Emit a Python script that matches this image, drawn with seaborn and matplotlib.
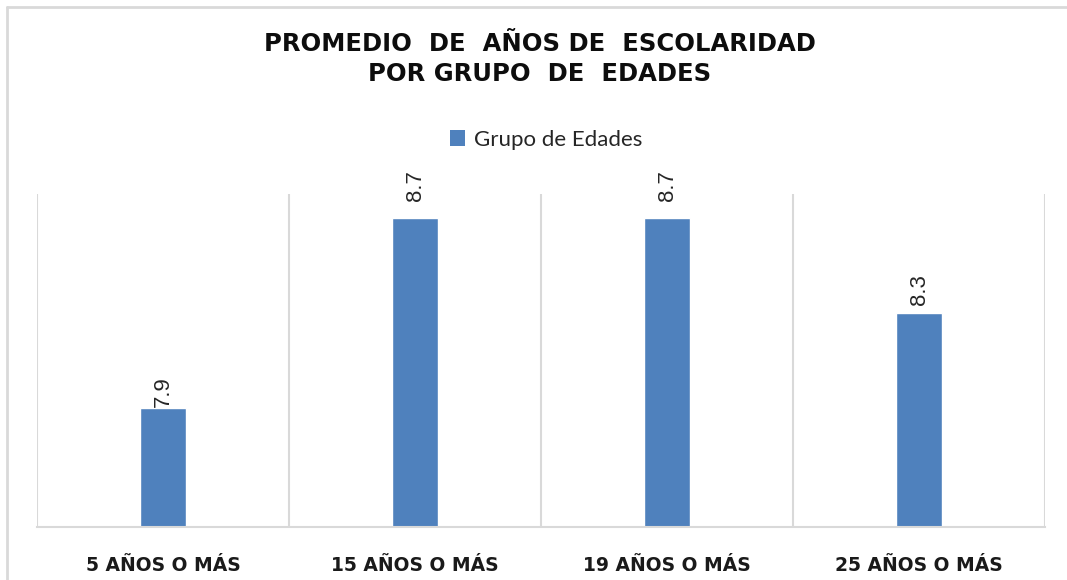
import matplotlib
matplotlib.use("agg")
import matplotlib.pyplot as plt
from matplotlib.lines import Line2D
from matplotlib.patches import Patch
import seaborn as sns
import pandas as pd

categories = ["5 AÑOS O MÁS", "15 AÑOS O MÁS", "19 AÑOS O MÁS", "25 AÑOS O MÁS"]
values = [7.9, 8.7, 8.7, 8.3]
series_name = "Grupo de Edades"
title = "PROMEDIO  DE  AÑOS DE  ESCOLARIDAD\nPOR GRUPO  DE  EDADES"

bar_color = "#4F81BD"
grid_color = "#D9D9D9"

sns.set_style("white")
plt.rcParams["font.family"] = ["Lato", "DejaVu Sans"]
wide_bold = ["DejaVu Sans"]

df = pd.DataFrame({"grupo": categories, "promedio": values})

fig = plt.figure(figsize=(10.67, 5.8), dpi=100)
ax = fig.add_axes([37 / 1067, 53 / 580, 1008 / 1067, 333 / 580])

sns.barplot(data=df, x="grupo", y="promedio", color=bar_color, width=0.183,
            saturation=1, ax=ax)

ax.set_xlim(-0.5, 3.5)
ax.set_ylim(7.4, 8.8)
ax.set_yticks([])
ax.set_xlabel("")
ax.set_ylabel("")

# category separators like Excel's vertical gridlines
ax.set_xticks([-0.5, 0.5, 1.5, 2.5, 3.5], minor=True)
ax.grid(True, which="minor", axis="x", color=grid_color, linewidth=1.5)
ax.set_axisbelow(True)
ax.tick_params(axis="x", which="both", length=0, pad=21)
for lbl in ax.get_xticklabels():
    lbl.set_fontweight("bold")
    lbl.set_fontsize(13.5)
    lbl.set_family(wide_bold)
    lbl.set_color("#1a1a1a")

for side in ["top", "left", "right"]:
    ax.spines[side].set_visible(False)
ax.spines["bottom"].set_color(grid_color)
ax.spines["bottom"].set_linewidth(1.5)

# Excel puts the rotated labels a bit higher on the taller bars
label_pad = [1, 12, 12, 6]
for bar, pad in zip(ax.containers[0], label_pad):
    ax.bar_label(ax.containers[0], labels=[
        f"{b.get_height():.1f}" if b is bar else "" for b in ax.containers[0]],
        rotation=90, padding=pad, fontsize=16,
        family=["Liberation Sans", "DejaVu Sans"])

fig.text(540 / 1067, 1 - 59 / 580, title, ha="center", va="center",
         fontsize=17.5, fontweight="bold", linespacing=1.3, color="#0d0d0d",
         family=wide_bold)

fig.legend(handles=[Patch(facecolor=bar_color, edgecolor="none", label=series_name)],
           loc="center", bbox_to_anchor=(546 / 1067, 1 - 140 / 580),
           frameon=False, fontsize=16, handlelength=0.7, handleheight=0.7,
           handletextpad=0.4)

# outer chart border (cropped at right and bottom)
fig.add_artist(Line2D([7 / 1067, 7 / 1067], [0, 1 - 7 / 580],
                      transform=fig.transFigure, color=grid_color, linewidth=2))
fig.add_artist(Line2D([7 / 1067, 1], [1 - 7 / 580, 1 - 7 / 580],
                      transform=fig.transFigure, color=grid_color, linewidth=2))

fig.savefig("out.png", dpi=100)
